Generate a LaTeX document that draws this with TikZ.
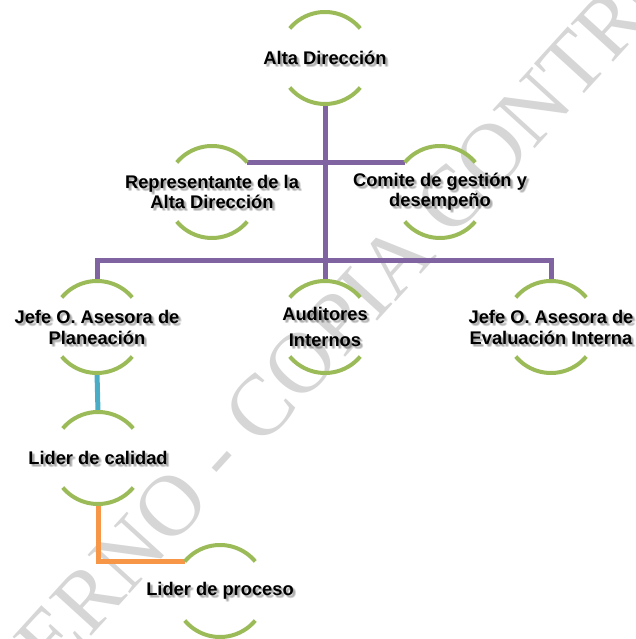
\documentclass[tikz,border=0pt]{standalone}
\usepackage{fontspec}
\setmainfont{Liberation Sans}
\newfontfamily\wmfont{Liberation Serif}
\usetikzlibrary{calc}
\definecolor{ogreen}{HTML}{9BBB59}
\definecolor{opurple}{HTML}{8064A2}
\definecolor{oblue}{HTML}{4BACC6}
\definecolor{oorange}{HTML}{F79646}
\definecolor{wmgray}{HTML}{D6D6D6}
\tikzset{
  ring/.style={circle, minimum size=92pt, inner sep=0pt, outer sep=0pt},
  ringline/.style={draw=ogreen, line width=4pt},
  lbl/.style={font=\bfseries\fontsize{18.3}{20}\selectfont, align=center, inner sep=0pt, text=black},
  bus/.style={draw=opurple, line width=5pt},
  bluelink/.style={draw=oblue, line width=5pt},
  orangelink/.style={draw=oorange, line width=5pt},
  wmark/.style={font=\wmfont\fontsize{87}{87}\selectfont, text=wmgray, inner sep=0pt, anchor=base west, rotate=47.7}
}
\newcommand\ringarcs[1]{%
  \draw[ringline] (#1.40) arc[start angle=40,end angle=140,radius=46pt];
  \draw[ringline] (#1.220) arc[start angle=220,end angle=320,radius=46pt];}
\newcommand\labelat[3][]{%
  \foreach \dx/\dy in {1/-1,2/-2,3/-3,2/-3,3/-2}{\node[lbl,#1,text opacity=0.09] at ($(#2)+(\dx,\dy)$) {#3};}
  \node[lbl,#1] (#2t) at (#2) {#3};}
\begin{document}
\begin{tikzpicture}[x=1pt,y=1pt]
\useasboundingbox (0,0) rectangle (636,639);
\begin{scope}
  \clip (0,0) rectangle (636,639);
  \node[wmark] (wm) at (-44,-146) {INTERNO - COPIA CONTROLADA};
\end{scope}
% ring nodes
\node[ring] (top) at (325,581) {};
\node[ring] (rep) at (212,447) {};
\node[ring] (com) at (440,447) {};
\node[ring] (jp)  at (97,312) {};
\node[ring] (aud) at (325,312) {};
\node[ring] (je)  at (551,312) {};
\node[ring] (lc)  at (98,181) {};
\node[ring] (lp)  at (220,48) {};
\coordinate (busy) at (325,378);
% connectors
\draw[bus] (top.south) -- (aud.north);
\draw[bus] (rep.40) -- (com.140);
\draw[bus] (jp.north) |- (busy) -| (je.north);
\draw[bluelink] (jp.south) -- (lc.north);
\draw[orangelink] (lc.south) |- (lp.140);
% arcs
\foreach \n in {top,rep,com,jp,aud,je,lc,lp}{\ringarcs{\n}}
% labels
\labelat{top}{Alta Dirección}
\labelat{rep}{Representante de la\\Alta Dirección}
\labelat{com}{Comite de gestión y\\desempeño}
\labelat[font=\bfseries\fontsize{18.3}{21}\selectfont]{jp}{Jefe O. Asesora de\\Planeación}
\labelat[font=\bfseries\fontsize{18.3}{26}\selectfont]{aud}{Auditores\\Internos}
\labelat[font=\bfseries\fontsize{18.3}{21}\selectfont]{je}{Jefe O. Asesora de\\Evaluación Interna}
\labelat{lc}{Lider de calidad}
\labelat{lp}{Lider de proceso}
\end{tikzpicture}
\end{document}
